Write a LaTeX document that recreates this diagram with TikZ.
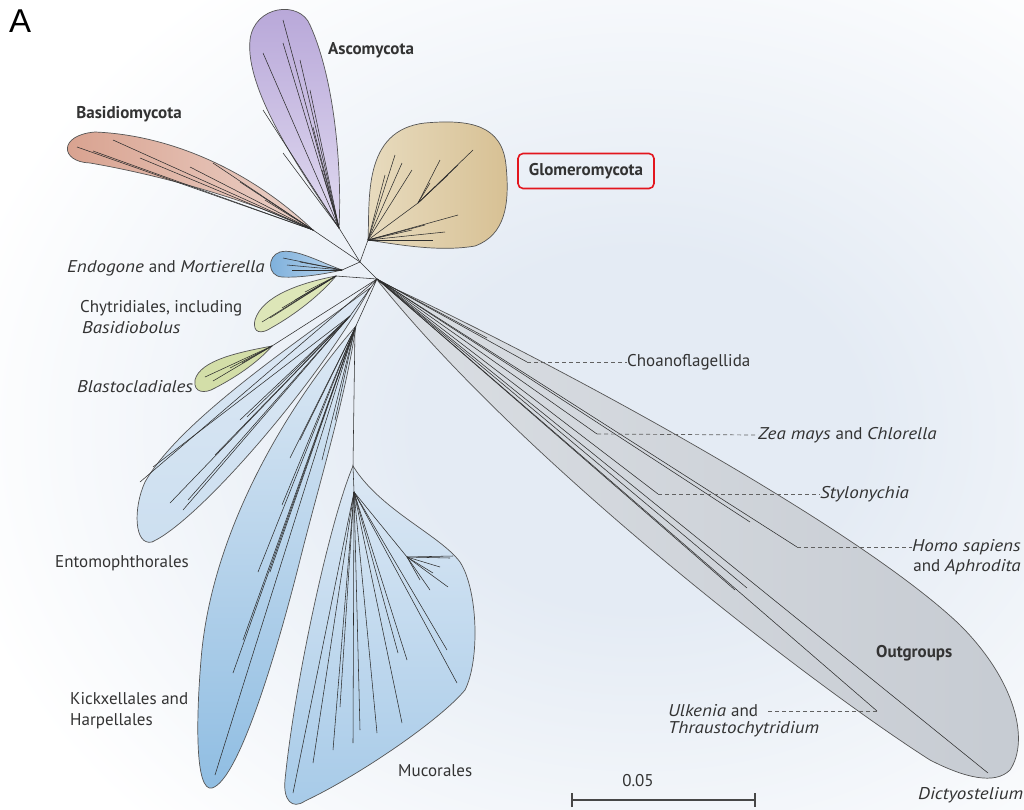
\documentclass[tikz,border=0pt]{standalone}
\usepackage{fontspec}
\setmainfont{PT Sans}[ItalicFeatures={FakeStretch=1.12}]
\newfontfamily\panelfont{Liberation Sans}
\usetikzlibrary{calc,arrows.meta}

\definecolor{ink}{HTML}{333333}
\definecolor{edge}{HTML}{555555}
\definecolor{twig}{HTML}{2E2E2E}
\definecolor{glow}{HTML}{E4EBF4}
\definecolor{basidL}{HTML}{D8A18E}
\definecolor{basidR}{HTML}{EBD1C8}
\definecolor{ascoT}{HTML}{B7A6D8}
\definecolor{ascoB}{HTML}{E0DAF0}
\definecolor{gloL}{HTML}{E8DCC0}
\definecolor{gloR}{HTML}{D7C093}
\definecolor{endoL}{HTML}{7CAFDB}
\definecolor{endoR}{HTML}{BCD6EE}
\definecolor{chyt}{HTML}{DDE6B8}
\definecolor{blast}{HTML}{D3DEA8}
\definecolor{entoT}{HTML}{DDE8F4}
\definecolor{entoB}{HTML}{CCDFF0}
\definecolor{kickT}{HTML}{DEE9F4}
\definecolor{kickB}{HTML}{8FBDE2}
\definecolor{mucT}{HTML}{DCE8F4}
\definecolor{mucB}{HTML}{A6CAE8}
\definecolor{outL}{HTML}{DADEE3}
\definecolor{outR}{HTML}{C6CBD2}
\definecolor{boxred}{HTML}{E3161E}

\pgfdeclareradialshading{glowshade}{\pgfpoint{0bp}{0bp}}{color(0bp)=(glow);color(8bp)=(glow);color(25bp)=(white);color(50bp)=(white)}

\begin{document}
\begin{tikzpicture}[x=1pt,y=-1pt,
    clade/.style={draw=edge,line width=0.7pt},
    branch/.style={draw=twig,line width=0.55pt},
    leader/.style={draw=black!62,line width=0.7pt,dash pattern=on 4pt off 3pt},
    lab/.style={text=ink,inner sep=0pt,font=\fontsize{17}{21}\selectfont},
    boldlab/.style={lab,font=\fontsize{17}{21}\selectfont\bfseries}]
  \useasboundingbox (0,0) rectangle (1024,809);
  \clip (0,0) rectangle (1024,809);
  \fill[white] (0,0) rectangle (1024,809);
  \shade[shading=glowshade] (640,430) ellipse (700 and 560);

  % clade outlines
  \path[clade,left color=basidL,right color=basidR] (313,230) .. controls (250,170) and (170,135) .. (95,132) .. controls (58,135) and (60,162) .. (90,163) .. controls (160,175) and (250,200) .. (313,230) -- cycle;
  \path[clade,top color=ascoT,bottom color=ascoB] (339,228) .. controls (300,170) and (245,90) .. (250,40) .. controls (254,5) and (300,0) .. (310,25) .. controls (335,80) and (342,170) .. (339,228) -- cycle;
  \path[clade,left color=gloL,right color=gloR] (368,240) .. controls (370,200) and (362,130) .. (425,123) .. controls (470,119) and (502,125) .. (506,165) .. controls (510,205) and (505,235) .. (475,246) .. controls (440,252) and (400,245) .. (368,240) -- cycle;
  \path[clade,left color=endoL,right color=endoR] (342,270) .. controls (320,262) and (295,248) .. (280,252) .. controls (267,256) and (267,276) .. (282,277) .. controls (300,278) and (325,274) .. (342,270) -- cycle;
  \path[clade,fill=chyt] (336,276) .. controls (300,283) and (262,296) .. (255,320) .. controls (252,334) and (262,334) .. (271,328) .. controls (296,314) and (320,295) .. (336,276) -- cycle;
  \path[clade,fill=blast] (272,346) .. controls (240,352) and (200,360) .. (195,380) .. controls (193,393) and (205,394) .. (215,388) .. controls (240,375) and (260,360) .. (272,346) -- cycle;
  \path[clade,top color=entoT,bottom color=entoB] (370,288) .. controls (300,340) and (180,420) .. (145,482) .. controls (133,508) and (134,546) .. (152,542) .. controls (200,520) and (320,380) .. (370,288) -- cycle;
  \path[clade,top color=kickT,bottom color=kickB] (356,326) .. controls (300,390) and (212,520) .. (201,660) .. controls (196,720) and (195,792) .. (212,788) .. controls (240,780) and (280,640) .. (300,560) .. controls (320,480) and (345,400) .. (356,326) -- cycle;
  \path[clade,top color=mucT,bottom color=mucB] (353,466) .. controls (330,520) and (295,680) .. (285,780) .. controls (283,800) and (292,810) .. (305,801) .. controls (360,775) and (440,720) .. (465,690) .. controls (480,660) and (478,590) .. (460,562) .. controls (440,535) and (380,510) .. (353,466) -- cycle;
  \path[clade,left color=outL,right color=outR] (378,281) .. controls (520,345) and (850,520) .. (960,625) .. controls (1015,680) and (1030,740) .. (1010,770) .. controls (995,785) and (965,778) .. (930,760) .. controls (820,690) and (530,470) .. (378,281) -- cycle;

  % tree junctions
  \coordinate (ja) at (360,262);
  \coordinate (jc) at (377,279);
  \coordinate (asc) at (339,228);
  \coordinate (bas) at (313,230);
  \coordinate (glo) at (368,240);
  \coordinate (gls) at (418,203);
  \coordinate (endo) at (342,270);
  \coordinate (chy) at (336,276);
  \coordinate (bla) at (272,346);
  \coordinate (ent) at (350,316);
  \coordinate (kic) at (355,328);
  \coordinate (muc) at (353,466);
  \coordinate (mus) at (354,492);
  \coordinate (mub) at (407,557);

  \draw[branch] (bas) -- (ja) -- (jc);
  \draw[branch] (asc) -- (ja) (glo) -- (ja) (endo) -- (ja);
  \draw[branch] (jc) -- (chy) (jc) -- (bla) (jc) -- (ent) (jc) -- (kic) -- (muc) -- (mus);
  \draw[branch] (jc) -- (140,482);

  \foreach \p in {(77,147),(113,140),(93,151),(140,158),(190,167),(213,163),(240,182),(265,200)}
    \draw[branch] (bas) -- \p;
  \foreach \p in {(283,20),(263,53),(283,43),(310,90),(263,110),(313,127),(283,153),(300,60),(322,170)}
    \draw[branch] (asc) -- \p;
  \draw[branch] (glo) -- (gls) -- (473,150);
  \foreach \p in {(395,155),(402,163),(412,170),(385,175)}
    \draw[branch] (glo) -- \p;
  \foreach \p in {(430,183),(448,175),(458,165),(440,160)}
    \draw[branch] (gls) -- \p;
  \foreach \p in {(458,215),(433,240),(445,232),(412,230),(425,225)}
    \draw[branch] (glo) -- \p;
  \foreach \p in {(283,258),(287,265),(292,270),(300,262)}
    \draw[branch] (endo) -- \p;
  \foreach \p in {(262,322),(270,318),(282,308),(295,300),(305,292)}
    \draw[branch] (chy) -- \p;
  \foreach \p in {(205,377),(213,381),(230,368),(242,363)}
    \draw[branch] (bla) -- \p;
  \foreach \p in {(153,467),(170,503),(183,510),(188,500),(240,420),(247,417),(215,455)}
    \draw[branch] (ent) -- \p;
  \foreach \p in {(215,775),(233,673),(243,640),(258,572),(270,572),(282,505),(290,458),(322,460),(335,420),(300,440)}
    \draw[branch] (kic) -- \p;
  \foreach \p in {(293,793),(313,763),(333,750),(340,707),(353,743),(360,730),(377,733),(402,723),(398,653),(407,660),(447,650),(457,683)}
    \draw[branch] (mus) -- \p;
  \draw[branch] (mus) -- (mub);
  \foreach \p in {(450,558),(440,567),(433,573),(430,590),(448,587),(420,580),(453,556)}
    \draw[branch] (mub) -- \p;

  % outgroup tips
  \coordinate (choa) at (527,362);
  \coordinate (zea) at (597,434);
  \coordinate (styl) at (658,494);
  \coordinate (homo) at (797,547);
  \coordinate (ulk) at (877,711);
  \coordinate (dict) at (988,773);
  \foreach \p in {(choa),(zea),(styl),(homo),(ulk),(dict),(487,338),(750,522),(747,588),(735,590)}
    \draw[branch] (jc) -- \p;

  % labels
  \node[lab,anchor=west,font=\panelfont\fontsize{33}{36}\selectfont,text=black] (panel) at (9,21) {A};
  \node[boldlab] (ascolab) at (371,50) {Ascomycota};
  \node[boldlab] (basilab) at (129,114) {Basidiomycota};
  \node[boldlab,draw=boxred,line width=1.6pt,rounded corners=5pt,minimum width=136pt,minimum height=35pt] (glolab) at (586,171) {Glomeromycota};
  \node[lab,anchor=west] (endolab) at (67,268) {\itshape Endogone \upshape and \itshape Mortierella};
  \node[lab,anchor=west,align=left] (chylab) at (80,317) {Chytridiales, including\\\hspace*{2pt}\itshape Basidiobolus};
  \node[lab,anchor=west] (blalab) at (77,387) {\itshape Blastocladiales};
  \node[lab,anchor=west] (entlab) at (55,563) {Entomophthorales};
  \node[lab,anchor=west,align=left] (kiclab) at (70,711) {Kickxellales and\\Harpellales};
  \node[lab,anchor=west] (muclab) at (398,771) {Mucorales};
  \node[boldlab,anchor=west] (outlab) at (876,653) {Outgroups};

  \node[lab,anchor=west] (choalab) at (627,362) {Choanoflagellida};
  \node[lab,anchor=west] (zealab) at (758,435) {\itshape Zea mays \upshape and \itshape Chlorella};
  \node[lab,anchor=west] (styllab) at (820,494) {\itshape Stylonychia};
  \node[lab,anchor=west] (homolab) at (912,547) {\itshape Homo sapiens};
  \node[lab,anchor=north east] (aphlab) at (homolab.south east) [yshift=-4pt] {and \itshape Aphrodita};
  \node[lab,anchor=west] (ulklab) at (668,711) {\itshape Ulkenia \upshape and};
  \node[lab,anchor=north west] (thrlab) at (ulklab.south west) [yshift=-4pt] {\itshape Thraustochytridium};
  \node[lab,anchor=west] (dictlab) at (918,795) {\itshape Dictyostelium};

  \draw[leader] (choa) -- (choalab.west);
  \draw[leader] (zea) -- (zealab.west);
  \draw[leader] (styl) -- (styllab.west);
  \draw[leader] (homo) -- (homolab.west);
  \draw[leader] (ulk) -- ([xshift=8pt]ulklab.east);

  % scale bar
  \coordinate (sb1) at (571,800);
  \coordinate (sb2) at (756,800);
  \draw[draw=black!72,line width=2.2pt,{Bar[width=14pt]}-{Bar[width=14pt]}] (sb1) -- (sb2);
  \node[lab] (sblab) at (638,781) {0.05};
\end{tikzpicture}
\end{document}
